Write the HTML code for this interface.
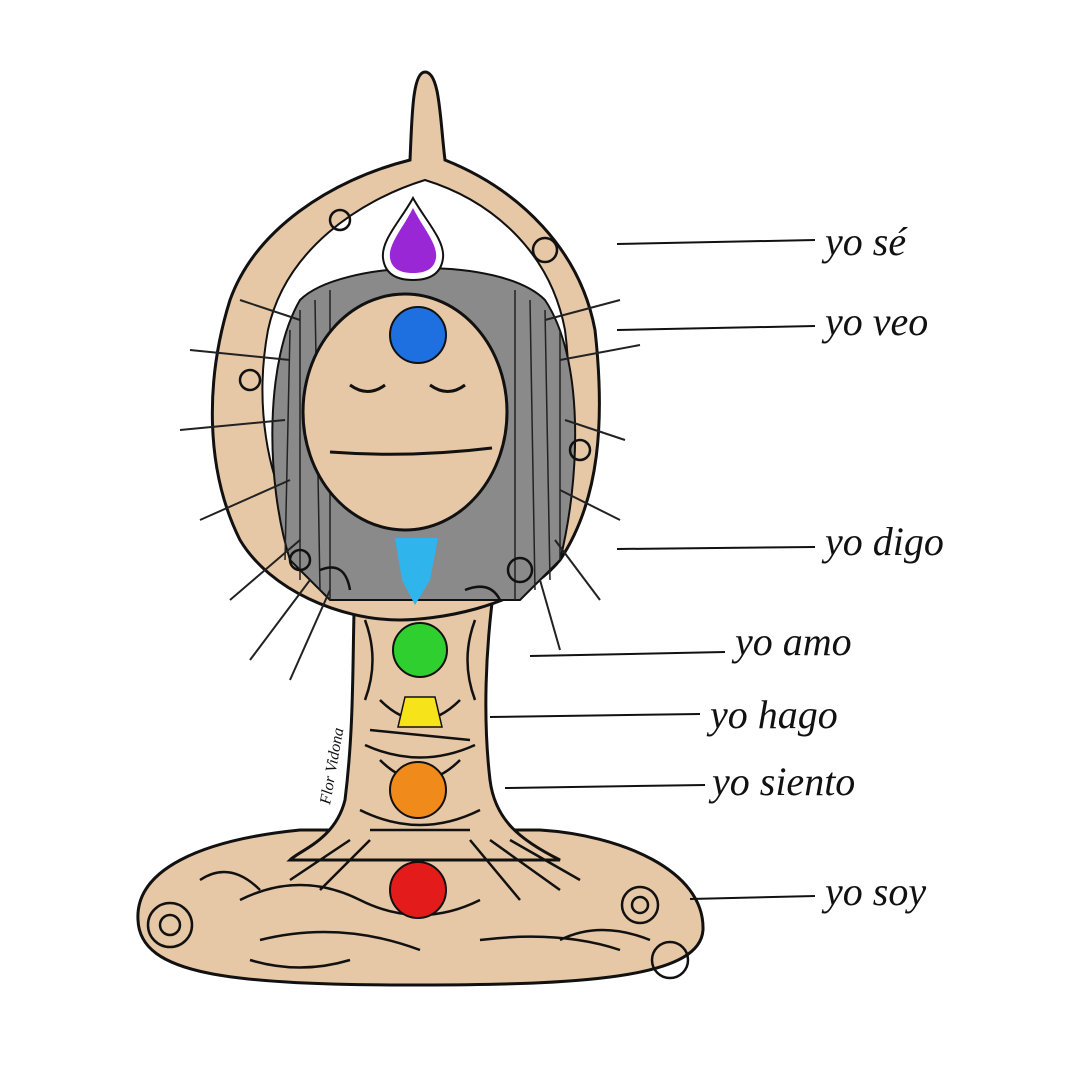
<!DOCTYPE html>
<html><head><meta charset="utf-8"><style>
html,body{margin:0;padding:0;background:#fff}
svg{display:block}
text{font-family:"Liberation Serif",serif;font-style:italic;font-size:40px;fill:#111}
</style></head><body>
<svg width="1080" height="1069" viewBox="0 0 1080 1069" xmlns="http://www.w3.org/2000/svg">
<rect width="1080" height="1069" fill="#fff"/>
<!-- legs -->
<path d="M300,830 C200,840 135,870 138,920 C140,975 230,985 420,985 C600,985 700,975 703,930 C705,870 620,835 540,830 Z" fill="#e6c7a6" stroke="#111" stroke-width="3"/>
<!-- torso -->
<path d="M355,580 C352,650 355,720 345,800 C335,840 300,850 290,860 L560,860 C520,840 495,820 490,780 C483,720 485,650 495,580 Z" fill="#e6c7a6" stroke="#111" stroke-width="3"/>
<!-- arms outer -->
<path d="M425,72 C440,72 440,120 445,160 C520,190 580,250 595,330 C605,420 600,500 560,560 C520,610 430,620 400,620 C340,620 270,590 240,540 C205,470 205,380 230,300 C255,230 330,180 410,160 C412,120 412,72 425,72 Z" fill="#e6c7a6" stroke="#111" stroke-width="3"/>
<!-- inner gap -->
<path d="M425,180 C490,200 550,250 565,330 C575,410 565,480 530,530 L300,530 C265,480 255,400 268,330 C285,250 360,200 425,180 Z" fill="#fff" stroke="#111" stroke-width="2"/>
<!-- hair -->
<path d="M300,300 C340,260 500,255 545,300 C585,360 580,480 560,560 L520,600 L330,600 L290,560 C265,480 265,360 300,300 Z" fill="#8a8a8a" stroke="#111" stroke-width="2"/>
<g stroke="#222" stroke-width="1.5" fill="none">
<path d="M290,330 L285,560 M300,310 L300,580 M315,300 L320,590 M530,300 L535,590 M545,310 L550,580 M560,330 L560,560 M330,290 L330,600 M515,290 L515,600"/>
</g>
<g stroke="#222" stroke-width="2" fill="none">
<path d="M300,320 L240,300 M290,360 L190,350 M285,420 L180,430 M290,480 L200,520 M300,540 L230,600 M310,580 L250,660 M330,590 L290,680 M545,320 L620,300 M560,360 L640,345 M565,420 L625,440 M560,490 L620,520 M555,540 L600,600 M540,580 L560,650"/>
</g>
<!-- face -->
<ellipse cx="405" cy="412" rx="102" ry="118" fill="#e6c7a6" stroke="#111" stroke-width="3"/>
<path d="M350,385 Q368,398 385,385 M430,385 Q448,398 465,385" stroke="#111" stroke-width="3" fill="none"/>
<path d="M330,452 Q410,458 492,448" stroke="#111" stroke-width="3" fill="none"/>
<!-- decorative patterns -->
<g stroke="#111" stroke-width="2.5" fill="none">
<circle cx="170" cy="925" r="22"/><circle cx="170" cy="925" r="10"/><circle cx="670" cy="960" r="18"/><circle cx="640" cy="905" r="18"/><circle cx="640" cy="905" r="8"/>
<path d="M240,900 Q300,870 360,900 Q420,930 480,900 M260,940 Q340,920 420,950 M480,940 Q560,930 620,950 M380,700 Q420,740 460,700 M380,760 Q420,800 460,760 M370,830 L470,830"/>
<path d="M365,620 Q380,660 365,700 M475,620 Q460,660 475,700 M370,730 L470,740 M365,745 Q420,770 475,745 M360,810 Q420,840 480,810 M470,840 L520,900 M490,840 L560,890 M510,840 L580,880 M370,840 L320,890 M350,840 L290,880 M200,880 Q230,860 260,890 M560,940 Q600,920 650,940 M250,960 Q300,975 350,960"/>
<circle cx="520" cy="570" r="12"/><circle cx="300" cy="560" r="10"/><circle cx="250" cy="380" r="10"/><circle cx="580" cy="450" r="10"/><circle cx="340" cy="220" r="10"/><circle cx="545" cy="250" r="12"/>
<path d="M465,590 Q490,580 500,600 M320,570 Q345,560 350,590"/>
</g>
<!-- chakras -->
<path d="M413,198 C425,220 445,240 443,258 C441,275 428,280 413,280 C398,280 385,275 383,258 C381,240 401,220 413,198 Z" fill="#fff" stroke="#111" stroke-width="2"/>
<path d="M413,208 C423,228 438,244 436,258 C434,270 424,273 413,273 C402,273 392,270 390,258 C388,244 403,228 413,208 Z" fill="#9a27d6"/>
<circle cx="418" cy="335" r="28" fill="#1e6fe0" stroke="#111" stroke-width="2"/>
<path d="M395,538 L438,538 L430,580 L415,605 L402,580 Z" fill="#2fb5ec"/>
<circle cx="420" cy="650" r="27" fill="#2fcf2f" stroke="#111" stroke-width="2"/>
<path d="M405,697 L435,697 L442,727 L398,727 Z" fill="#f7e31a" stroke="#111" stroke-width="1.5"/>
<circle cx="418" cy="790" r="28" fill="#f08a1a" stroke="#111" stroke-width="2"/>
<circle cx="418" cy="890" r="28" fill="#e41b1b" stroke="#111" stroke-width="2"/>
<!-- connector lines -->
<g stroke="#111" stroke-width="2">
<line x1="617" y1="244" x2="815" y2="240"/>
<line x1="617" y1="330" x2="815" y2="326"/>
<line x1="617" y1="549" x2="815" y2="547"/>
<line x1="530" y1="656" x2="725" y2="652"/>
<line x1="490" y1="717" x2="700" y2="714"/>
<line x1="505" y1="788" x2="705" y2="785"/>
<line x1="690" y1="899" x2="815" y2="896"/>
</g>
<text x="825" y="255">yo sé</text>
<text x="825" y="335">yo veo</text>
<text x="825" y="555">yo digo</text>
<text x="735" y="655">yo amo</text>
<text x="710" y="728">yo hago</text>
<text x="712" y="795">yo siento</text>
<text x="825" y="905">yo soy</text>
<text x="0" y="0" transform="translate(330,805) rotate(-80)" style="font-size:16px">Flor Vidona</text>
</svg>
</body></html>
